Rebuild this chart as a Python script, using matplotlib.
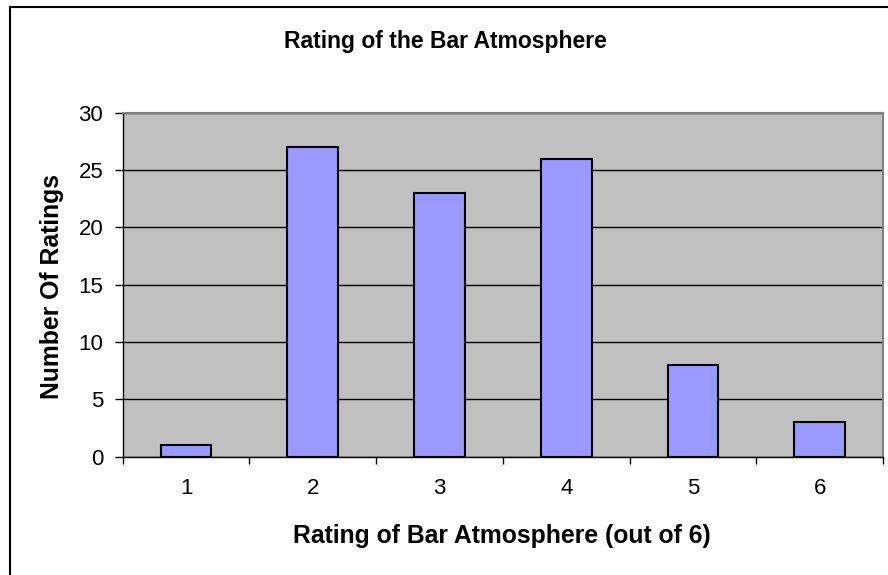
import matplotlib
matplotlib.use('Agg')
import matplotlib.pyplot as plt
from matplotlib.lines import Line2D

# data
ratings = ['1', '2', '3', '4', '5', '6']
counts = [1, 27, 23, 26, 8, 3]
y_ticks = [0, 5, 10, 15, 20, 25, 30]

plt.rcParams['font.family'] = ['Liberation Sans', 'DejaVu Sans']

fig = plt.figure(figsize=(8.88, 5.75), dpi=100)
ax = fig.add_axes([0.1382, 0.2057, 0.9944 - 0.1382, 0.804 - 0.2057])
ax.set_facecolor('#C0C0C0')

x = list(range(len(ratings)))
ax.bar(x, counts, width=0.4, color='#9999FF', edgecolor='black', linewidth=1.5, zorder=3)

ax.set_xlim(-0.5, len(ratings) - 0.5)
ax.set_ylim(0, 30)
ax.set_yticks(y_ticks)
ax.yaxis.grid(True, color='black', linewidth=1, zorder=1)
ax.set_axisbelow(True)

# category labels centred, tick marks on category boundaries
ax.set_xticks(x)
ax.set_xticklabels(ratings)
ax.tick_params(axis='x', which='major', length=0, pad=15.5, labelsize=16)
ax.set_xticks([i - 0.5 for i in range(len(ratings) + 1)], minor=True)
ax.tick_params(axis='x', which='minor', length=5.3, width=1, direction='out')
ax.tick_params(axis='y', length=5.5, width=1, direction='out', labelsize=16, pad=8.5)

for side in ['top', 'right']:
    ax.spines[side].set_color('#808080')
    ax.spines[side].set_linewidth(1.5)
for side in ['left', 'bottom']:
    ax.spines[side].set_color('black')
    ax.spines[side].set_linewidth(1)

fig.text(0.5017, 0.9165, 'Rating of the Bar Atmosphere', ha='center', va='baseline',
         fontsize=16.5, fontweight='bold')
fig.text(0.5653, 0.0557, 'Rating of Bar Atmosphere (out of 6)', ha='center', va='baseline',
         fontsize=17.8, fontweight='bold')
fig.text(0.0586, 0.5026, 'Number Of Ratings', ha='center', va='center', rotation=90,
         fontsize=17.8, fontweight='bold')

# outer chart border (only top and left edges visible in the crop)
fig.add_artist(Line2D([0.0107, 0.0107], [0, 0.9878], color='black', linewidth=1.5, transform=fig.transFigure))
fig.add_artist(Line2D([0.0107, 1.0], [0.9878, 0.9878], color='black', linewidth=1.5, transform=fig.transFigure))

fig.savefig('out.png', dpi=100)
